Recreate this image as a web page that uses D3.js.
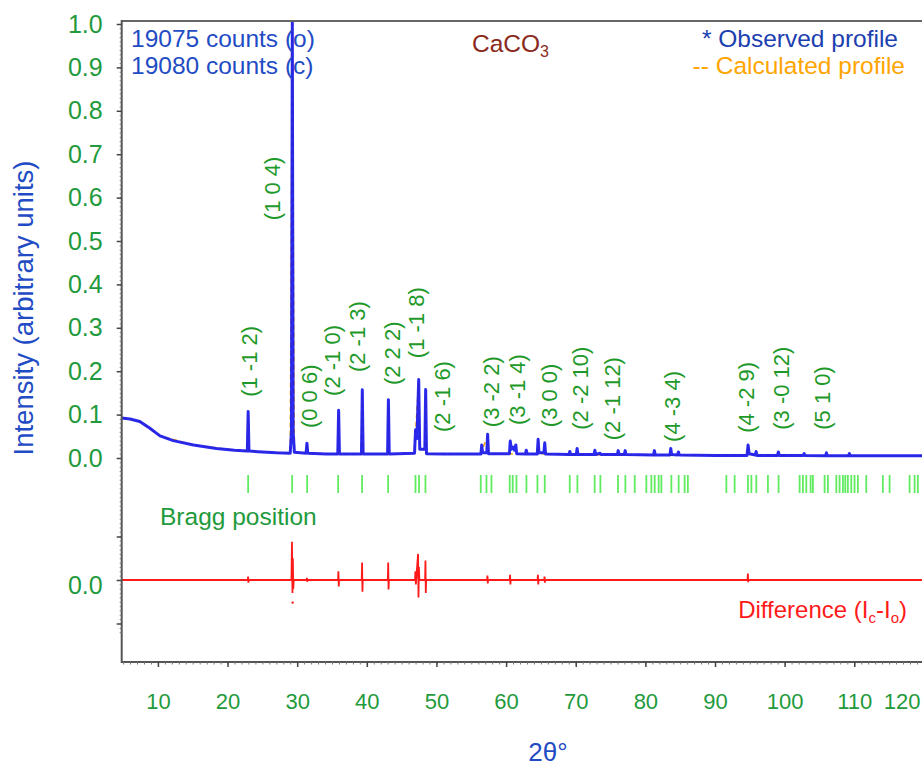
<!DOCTYPE html>
<html>
<head>
<meta charset="utf-8">
<script src="https://cdn.jsdelivr.net/npm/d3@7"></script>
<style>
  html, body { margin: 0; padding: 0; background: #fff; }
  svg { display: block; font-family: "Liberation Sans", Arial, sans-serif; }
</style>
</head>
<body>
<svg id="chart" width="922" height="766"></svg>
<script>
// ---------------- DATA ----------------
const xTickValues = [10, 20, 30, 40, 50, 60, 70, 80, 90, 100, 110, 120];
const yTickValues = [0, 0.1, 0.2, 0.3, 0.4, 0.5, 0.6, 0.7, 0.8, 0.9, 1.0];
const yTickLabels = ["0.0","0.1","0.2","0.3","0.4","0.5","0.6","0.7","0.8","0.9","1.0"];
const diffTickValues = [-0.1, 0, 0.1];

// Observed profile [2theta, normalised intensity]
const observed = [
  [4.8,0.092],[6,0.090],[7.4,0.084],[8.8,0.069],[10.3,0.051],[12.2,0.040],[15.1,0.030],[18.4,0.022],[21,0.018],
  [22.84,0.016],[22.96,0.107],[23.08,0.016],
  [25,0.014],[27,0.012],[29.0,0.011],[29.18,0.06],[29.3,1.005],[29.42,0.06],[29.6,0.013],
  [31.28,0.011],[31.4,0.034],[31.52,0.011],
  [34.2,0.009],[35.83,0.009],[35.95,0.11],[36.07,0.009],
  [39.23,0.009],[39.35,0.157],[39.47,0.009],
  [42.98,0.009],[43.1,0.134],[43.22,0.009],
  [46.85,0.011],[47.0,0.065],[47.2,0.045],[47.45,0.181],[47.6,0.02],[48.33,0.02],[48.45,0.158],[48.57,0.01],
  [51,0.009],[56.38,0.009],[56.5,0.03],[56.62,0.012],[57.23,0.012],[57.35,0.055],[57.47,0.01],
  [60.48,0.01],[60.6,0.039],[60.75,0.02],[61.0,0.025],[61.2,0.018],[61.4,0.03],[61.52,0.01],
  [62.78,0.009],[62.9,0.018],[63.02,0.009],
  [64.48,0.009],[64.6,0.043],[64.72,0.012],[65.43,0.012],[65.55,0.035],[65.67,0.009],
  [69.03,0.008],[69.15,0.015],[69.27,0.008],[70.08,0.008],[70.2,0.022],[70.32,0.008],
  [72.63,0.008],[72.75,0.018],[72.87,0.008],[73.5,0.011],[73.62,0.008],
  [75.98,0.008],[76.1,0.017],[76.22,0.008],[76.98,0.008],[77.1,0.017],[77.22,0.008],
  [81.18,0.007],[81.3,0.017],[81.42,0.007],
  [83.53,0.007],[83.65,0.022],[83.77,0.008],[84.63,0.007],[84.75,0.014],[84.87,0.007],
  [90,0.006],[94.6,0.006],[94.75,0.03],[94.9,0.01],[95.78,0.007],[95.9,0.015],[96.02,0.006],
  [98.98,0.006],[99.1,0.014],[99.22,0.006],
  [102.68,0.006],[102.8,0.01],[102.92,0.006],
  [105.88,0.005],[106.0,0.012],[106.12,0.005],
  [109.18,0.005],[109.3,0.01],[109.42,0.005],
  [115,0.005],[120.3,0.005]
];

// Calculated profile [2theta, normalised intensity]
const calculated = [
  [4.8,0.092],[7.4,0.084],[10.3,0.051],[15.1,0.030],[21,0.018],
  [22.84,0.016],[22.96,0.10],[23.08,0.016],
  [29.0,0.011],[29.3,1.0],[29.6,0.013],
  [31.28,0.011],[31.4,0.033],[31.52,0.011],
  [35.83,0.009],[35.95,0.10],[36.07,0.009],
  [39.23,0.009],[39.35,0.15],[39.47,0.009],
  [42.98,0.009],[43.1,0.128],[43.22,0.009],
  [46.85,0.011],[47.0,0.06],[47.45,0.175],[47.6,0.02],[48.33,0.02],[48.45,0.15],[48.57,0.01],
  [56.3,0.009],[57.35,0.05],[57.47,0.01],
  [64.48,0.009],[64.6,0.04],[64.72,0.012],[65.67,0.009],
  [70,0.008],[80,0.007],[90,0.006],
  [94.6,0.006],[94.75,0.027],[94.9,0.01],[96.02,0.006],
  [105,0.005],[120.3,0.005]
];

// Difference (Ic - Io)
const difference = [
  [4.8,0],[22.9,0],[22.95,0.008],[23.0,-0.006],[23.05,0],
  [29.18,0],[29.25,0.088],[29.32,-0.03],[29.38,0.05],[29.44,-0.02],[29.5,0],
  [31.35,0],[31.4,0.005],[31.45,-0.004],[31.5,0],
  [35.87,0],[35.92,0.02],[35.97,-0.015],[36.02,0],
  [39.27,0],[39.32,0.04],[39.37,-0.027],[39.42,0],
  [43.02,0],[43.07,0.04],[43.12,-0.022],[43.17,0],
  [46.92,0],[46.98,0.02],[47.04,-0.01],[47.36,0.06],[47.42,-0.04],[47.48,0.03],[47.55,0],
  [48.37,0],[48.42,0.045],[48.47,-0.03],[48.52,0],
  [57.27,0],[57.32,0.01],[57.37,-0.008],[57.42,0],
  [60.52,0],[60.57,0.012],[60.62,-0.01],[60.67,0],
  [64.52,0],[64.57,0.012],[64.62,-0.01],[64.67,0],
  [65.47,0],[65.52,0.008],[65.57,-0.006],[65.62,0],
  [94.67,0],[94.72,0.015],[94.77,-0.005],[94.82,0],
  [120.3,0]
];
const differenceOutliers = [[29.35, -0.052]];

// Bragg reflection positions (2theta)
const braggPositions = [
  22.96, 29.28, 31.43, 35.88, 39.32, 43.06, 46.99, 47.5, 48.42,
  56.36, 57.18, 57.9, 60.52, 60.95, 61.49, 62.92, 64.5, 65.55, 69.14, 70.24, 72.72, 73.54,
  76.07, 77.13, 78.47, 80.14, 80.86, 81.34, 81.91, 82.3, 83.73, 84.78, 85.64, 86.1,
  91.63, 92.82, 94.73, 95.22, 95.93, 97.6, 99.13, 102.15, 102.62, 103.11, 103.73, 104.06,
  105.74, 106.21, 107.42, 107.89, 108.37, 108.71, 109.08, 109.57, 110.04, 110.52, 111.72,
  114.1, 115.07, 117.94, 118.66, 119.13
];

// Miller-index annotations and where they sit (data coordinates)
const hklLabels = ["(1 -1 2)","(1 0 4)","(0 0 6)","(2 -1 0)","(2 -1 3)","(2 2 2)","(1 -1 8)","(2 -1 6)",
  "(3 -2 2)","(3 -1 4)","(3 0 0)","(2 -2 10)","(2 -1 12)","(4 -3 4)","(4 -2 9)","(3 -0 12)","(5 1 0)"];
const hklTheta = [23.2, 26.5, 31.8, 35.1, 38.6, 43.7, 47.2, 50.8, 57.9, 61.7, 66.3, 70.7, 75.3, 83.9, 94.5, 99.6, 105.5];
const hklIntensity = [0.141, 0.548, 0.069, 0.143, 0.198, 0.168, 0.230, 0.060, 0.071, 0.076, 0.071, 0.065, 0.041, 0.037, 0.058, 0.065, 0.065];

// ---------------- CHART ----------------
const svg = d3.select("#chart");
const pL = 121.7, pT = 21, pB = 662, pR = 922;

const x = d3.scaleLinear().domain([4.8, 120.3]).range([pL, 926]);
const y = d3.scaleLinear().domain([0, 1]).range([458, 24]);
const yd = d3.scaleLinear().domain([-0.1, 0.1]).range([623.5, 536.5]);

const green = "#1f9a3c";
const blue = "#1f4cc4";

svg.append("defs").append("clipPath").attr("id", "clip")
  .append("rect").attr("x", pL).attr("y", pT).attr("width", pR - pL).attr("height", pB - pT);

const plot = svg.append("g").attr("clip-path", "url(#clip)");

// Bragg ticks
plot.append("g").selectAll("line").data(braggPositions).join("line")
  .attr("x1", d => x(d)).attr("x2", d => x(d))
  .attr("y1", 475).attr("y2", 493)
  .attr("stroke", "#44e844").attr("stroke-width", 1.8).attr("stroke-opacity", 0.85);

// Difference curve
const lineD = d3.line().x(d => x(d[0])).y(d => yd(d[1]));
plot.append("path").datum(difference).attr("d", lineD)
  .attr("fill", "none").attr("stroke", "#ff1a1a").attr("stroke-width", 1.8);
plot.append("g").selectAll("circle").data(differenceOutliers).join("circle")
  .attr("cx", d => x(d[0])).attr("cy", d => yd(d[1])).attr("r", 1.2).attr("fill", "#ff1a1a");

// Calculated & observed profiles
const lineP = d3.line().x(d => x(d[0])).y(d => y(d[1]));
plot.append("path").datum(calculated).attr("d", lineP)
  .attr("fill", "none").attr("stroke", "#ffa500").attr("stroke-width", 1.5).attr("stroke-dasharray", "5,3");
plot.append("path").datum(observed).attr("d", lineP)
  .attr("fill", "none").attr("stroke", "#1818ee").attr("stroke-width", 3)
  .attr("stroke-linejoin", "round").attr("stroke-opacity", 0.92);

// hkl labels
svg.append("g").selectAll("text").data(hklLabels).join("text")
  .attr("transform", (d, i) => `translate(${x(hklTheta[i])},${y(hklIntensity[i])}) rotate(-90)`)
  .attr("dominant-baseline", "central")
  .attr("text-anchor", "start")
  .attr("font-size", 22).attr("fill", "#1f9a2a")
  .text(d => d);

// Frame
svg.append("line").attr("x1", pL).attr("x2", pR).attr("y1", pT).attr("y2", pT)
  .attr("stroke", "#666").attr("stroke-width", 2);
svg.append("line").attr("x1", pL).attr("x2", pL).attr("y1", pT - 1).attr("y2", pB + 1)
  .attr("stroke", "#555").attr("stroke-width", 2);
svg.append("line").attr("x1", pL).attr("x2", pR).attr("y1", pB).attr("y2", pB)
  .attr("stroke", "#555").attr("stroke-width", 2);

// Left axis: minor ticks
const minorTop = d3.range(-20, 101).map(v => v / 100);
svg.append("g").attr("transform", `translate(${pL},0)`)
  .call(d3.axisLeft(y).tickValues(minorTop.filter(v => y(v) < 545)).tickSize(2).tickFormat(""))
  .call(g => g.select(".domain").remove())
  .call(g => g.selectAll("line").attr("stroke", "#777"));
const minorDiff = d3.range(-12, 9).map(v => v / 100);
svg.append("g").attr("transform", `translate(${pL},0)`)
  .call(d3.axisLeft(yd).tickValues(minorDiff).tickSize(2).tickFormat(""))
  .call(g => g.select(".domain").remove())
  .call(g => g.selectAll("line").attr("stroke", "#777"));

// Left axis: major ticks + labels
svg.append("g").attr("transform", `translate(${pL},0)`)
  .call(d3.axisLeft(y).tickValues(yTickValues).tickSize(5).tickPadding(14)
    .tickFormat((d, i) => yTickLabels[i]))
  .call(g => g.select(".domain").remove())
  .call(g => g.selectAll("line").attr("stroke", "#444").attr("stroke-width", 1.5))
  .call(g => g.selectAll("text").attr("font-size", 25).attr("fill", green)
    .attr("font-family", "Liberation Sans, Arial, sans-serif"));

svg.append("g").attr("transform", `translate(${pL},0)`)
  .call(d3.axisLeft(yd).tickValues(diffTickValues).tickSize(5).tickPadding(14)
    .tickFormat(d => d === 0 ? "0.0" : ""))
  .call(g => g.select(".domain").remove())
  .call(g => g.selectAll("line").attr("stroke", "#444").attr("stroke-width", 1.5))
  .call(g => g.selectAll("text").attr("font-size", 25).attr("fill", green).attr("dy", "0.55em")
    .attr("font-family", "Liberation Sans, Arial, sans-serif"));

// Bottom axis: minor + major
svg.append("g").attr("transform", `translate(0,${pB})`)
  .call(d3.axisBottom(x).tickValues(d3.range(5, 121)).tickSize(2.5).tickFormat(""))
  .call(g => g.select(".domain").remove())
  .call(g => g.selectAll("line").attr("stroke", "#777"));
svg.append("g").attr("transform", `translate(0,${pB})`)
  .call(d3.axisBottom(x).tickValues(xTickValues).tickSize(5).tickPadding(26).tickFormat(d3.format("d")))
  .call(g => g.select(".domain").remove())
  .call(g => g.selectAll("line").attr("stroke", "#444").attr("stroke-width", 1.5))
  .call(g => g.selectAll("text").attr("font-size", 22).attr("fill", green)
    .attr("font-family", "Liberation Sans, Arial, sans-serif"))
  .call(g => g.selectAll(".tick").filter(d => d === 120).select("text")
    .attr("text-anchor", "end").attr("x", (920 - x(120))));

// Axis titles
svg.append("text").attr("transform", "translate(23,308) rotate(-90)")
  .attr("text-anchor", "middle").attr("dominant-baseline", "central")
  .attr("font-size", 27.5).attr("fill", blue).text("Intensity (arbitrary units)");
svg.append("text").attr("x", 548).attr("y", 761).attr("text-anchor", "middle")
  .attr("font-size", 26).attr("fill", blue).text("2θ°");

// Annotations
svg.append("text").attr("x", 131).attr("y", 47).attr("font-size", 24.5).attr("fill", blue).text("19075 counts (o)");
svg.append("text").attr("x", 131).attr("y", 74).attr("font-size", 24.5).attr("fill", blue).text("19080 counts (c)");

const title = svg.append("text").attr("x", 472).attr("y", 52).attr("font-size", 24.5).attr("fill", "#8a2a1c");
title.append("tspan").text("CaCO");
title.append("tspan").attr("font-size", 16).attr("dy", 5).text("3");

svg.append("text").attr("x", 898).attr("y", 47).attr("text-anchor", "end")
  .attr("font-size", 24.5).attr("fill", "#1c40b0").text("* Observed profile");
svg.append("text").attr("x", 905).attr("y", 74).attr("text-anchor", "end")
  .attr("font-size", 24.5).attr("fill", "#ffa500").text("-- Calculated profile");

svg.append("text").attr("x", 160).attr("y", 525).attr("font-size", 24.5).attr("fill", green).text("Bragg position");

const diffLabel = svg.append("text").attr("x", 907).attr("y", 618).attr("text-anchor", "end")
  .attr("font-size", 24).attr("fill", "#ff1a1a");
diffLabel.append("tspan").text("Difference (I");
diffLabel.append("tspan").attr("font-size", 15).attr("dy", 5).text("c");
diffLabel.append("tspan").attr("dy", -5).text("-I");
diffLabel.append("tspan").attr("font-size", 15).attr("dy", 5).text("o");
diffLabel.append("tspan").attr("dy", -5).text(")");
</script>
</body>
</html>
